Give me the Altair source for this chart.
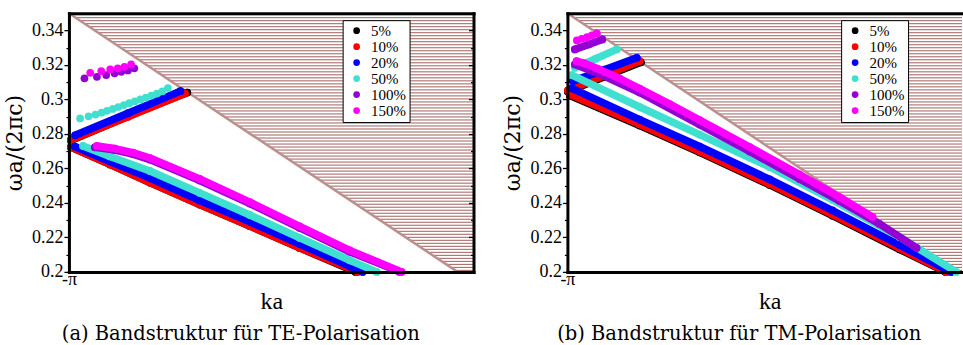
import altair as alt
import pandas as pd

# ---------------- data ----------------
SERIES = ["5%", "10%", "20%", "50%", "100%", "150%"]
COLORS = ["#000000", "#ff0000", "#0000ff", "#40e0d0", "#9400d3", "#ff00ff"]

CAPTIONS = ["(a) Bandstruktur für TE-Polarisation", "(b) Bandstruktur für TM-Polarisation"]
X_TITLE = "ka"
Y_TITLE = "ωa/(2πc)"

KA_PI = -3.14159
X_TICKS = [KA_PI]
X_TICK_LABELS = ["-π"]
Y_TICKS = [0.2, 0.22, 0.24, 0.26, 0.28, 0.3, 0.32, 0.34]
Y_MINOR = [0.21, 0.23, 0.25, 0.27, 0.29, 0.31, 0.33]
Y_RANGE = [0.2, 0.35]
KA_MAX = [-1.745, -1.779]

# light line (edge of the hatched light cone)
LIGHT_KA = [KA_PI, -1.800]
LIGHT_W = [0.35, 0.20]

# --- TE polarisation (ka, omega a / 2 pi c) ---
TE_5_LOW = [(-3.135, 0.2724), (-3.000, 0.2623), (-2.862, 0.2518), (-2.690, 0.2391), (-2.517, 0.2266), (-2.345, 0.2139), (-2.152, 0.2000)]
TE_5_UP = [(-3.135, 0.2762), (-2.936, 0.2903), (-2.733, 0.3040)]
TE_10_LOW = [(-3.135, 0.2724), (-3.000, 0.2623), (-2.862, 0.2518), (-2.690, 0.2391), (-2.517, 0.2266), (-2.345, 0.2139), (-2.145, 0.2000)]
TE_10_UP = [(-3.135, 0.2765), (-2.938, 0.2899), (-2.741, 0.3034)]
TE_20_LOW = [(-3.121, 0.2727), (-3.000, 0.2640), (-2.862, 0.2544), (-2.690, 0.2414), (-2.517, 0.2290), (-2.345, 0.2162), (-2.172, 0.2032), (-2.128, 0.2000)]
TE_20_UP = [(-3.120, 0.2792), (-2.938, 0.2920), (-2.757, 0.3048)]
TE_50_LOW = [(-3.093, 0.2730), (-3.000, 0.2669), (-2.862, 0.2585), (-2.690, 0.2458), (-2.517, 0.2330), (-2.345, 0.2197), (-2.172, 0.2067), (-2.079, 0.2000)]
TE_50_UP = [(-3.103, 0.2890), (-3.074, 0.2902), (-3.050, 0.2912), (-3.029, 0.2923), (-3.010, 0.2934), (-2.990, 0.2945),
            (-2.971, 0.2956), (-2.952, 0.2967), (-2.933, 0.2978), (-2.914, 0.2989), (-2.895, 0.3000), (-2.876, 0.3011),
            (-2.857, 0.3022), (-2.838, 0.3034), (-2.819, 0.3047), (-2.800, 0.3066)]
TE_100_LOW = [(-3.052, 0.2722), (-2.983, 0.2706), (-2.921, 0.2683), (-2.862, 0.2651), (-2.690, 0.2530), (-2.517, 0.2396), (-2.345, 0.2255), (-2.172, 0.2116), (-2.000, 0.2000)]
TE_100_UP = [(-3.088, 0.3122), (-3.045, 0.3131), (-3.013, 0.3141), (-2.984, 0.3151), (-2.961, 0.3160), (-2.938, 0.3168), (-2.916, 0.3180)]
TE_150_LOW = [(-3.045, 0.2730), (-2.983, 0.2715), (-2.921, 0.2692), (-2.862, 0.2660), (-2.690, 0.2539), (-2.517, 0.2405), (-2.345, 0.2264), (-2.172, 0.2125), (-1.993, 0.2000)]
TE_150_UP = [(-3.068, 0.3154), (-3.030, 0.3164), (-2.999, 0.3174), (-2.973, 0.3180), (-2.950, 0.3189), (-2.927, 0.3203)]

# --- TM polarisation ---
TM_5_LOW = [(-3.133, 0.3023), (-2.892, 0.2849), (-2.685, 0.2693), (-2.443, 0.2504), (-2.226, 0.2326), (-1.995, 0.2131), (-1.836, 0.2000)]
TM_5_UP = [(-3.140, 0.3045), (-3.014, 0.3131), (-2.888, 0.3215)]
TM_10_LOW = [(-3.133, 0.3029), (-2.892, 0.2855), (-2.685, 0.2699), (-2.443, 0.2510), (-2.226, 0.2332), (-1.995, 0.2137), (-1.833, 0.2000)]
TM_10_UP = [(-3.140, 0.3052), (-3.016, 0.3137), (-2.892, 0.3222)]
TM_20_LOW = [(-3.126, 0.3064), (-2.892, 0.2883), (-2.685, 0.2727), (-2.443, 0.2536), (-2.226, 0.2356), (-1.995, 0.2156), (-1.817, 0.2000)]
TM_20_UP = [(-3.123, 0.3106), (-3.012, 0.3173), (-2.902, 0.3241)]
TM_50_LOW = [(-3.126, 0.3141), (-2.892, 0.2956), (-2.685, 0.2796), (-2.443, 0.2608), (-2.226, 0.2417), (-1.995, 0.2203), (-1.799, 0.2000)]
TM_50_UP = [(-3.116, 0.3183), (-3.044, 0.3236), (-2.971, 0.3290)]
TM_100_LOW = [(-3.116, 0.3203), (-3.030, 0.3147), (-2.892, 0.3040), (-2.685, 0.2854), (-2.512, 0.2698), (-2.340, 0.2539), (-2.202, 0.2411), (-2.064, 0.2278), (-1.936, 0.2139)]
TM_100_UP = [(-3.116, 0.3290), (-3.068, 0.3319), (-3.021, 0.3348)]
TM_150_LOW = [(-3.110, 0.3222), (-3.085, 0.3211), (-3.030, 0.3173), (-2.961, 0.3121), (-2.892, 0.3063), (-2.788, 0.2973),
              (-2.685, 0.2880), (-2.512, 0.2724), (-2.340, 0.2565), (-2.202, 0.2434), (-2.088, 0.2319)]
TM_150_UP = [(-3.109, 0.3342), (-3.092, 0.3351), (-3.074, 0.3361), (-3.057, 0.3371), (-3.040, 0.3383)]

# branch tables: (series, branch name, kind, points)
TE_BRANCHES = [
    ("5%", "low", "band", TE_5_LOW), ("5%", "up", "band", TE_5_UP),
    ("10%", "low", "band", TE_10_LOW), ("10%", "up", "band", TE_10_UP),
    ("20%", "low", "band", TE_20_LOW), ("20%", "up", "band", TE_20_UP),
    ("50%", "low", "band", TE_50_LOW), ("50%", "up", "dots", TE_50_UP),
    ("100%", "low", "band", TE_100_LOW), ("100%", "up", "dots", TE_100_UP),
    ("150%", "low", "band", TE_150_LOW), ("150%", "up", "dots", TE_150_UP),
]
TM_BRANCHES = [
    ("5%", "low", "band", TM_5_LOW), ("5%", "up", "band", TM_5_UP),
    ("10%", "low", "band", TM_10_LOW), ("10%", "up", "band", TM_10_UP),
    ("20%", "low", "band", TM_20_LOW), ("20%", "up", "band", TM_20_UP),
    ("50%", "low", "band", TM_50_LOW), ("50%", "up", "band", TM_50_UP),
    ("100%", "low", "band", TM_100_LOW), ("100%", "up", "band", TM_100_UP),
    ("150%", "low", "band", TM_150_LOW), ("150%", "up", "dots", TM_150_UP),
]

# ---------------- styling ----------------
FONT = "DejaVu Serif"
TFONT = "Liberation Serif"
PANEL_W = [405, 395]
PANEL_H = 259
HATCH_COLOR = "#a0605e"
LIGHT_COLOR = "#bc8f8f"
N_STRIPES = 86
STRIPE_DW = (Y_RANGE[1] - Y_RANGE[0]) / N_STRIPES

color_scale = alt.Scale(domain=SERIES, range=COLORS)

LEGEND = alt.Legend(title=None, orient="none", legendX=274, legendY=7, direction="vertical",
                    fillColor="white", strokeColor="black", padding=3, symbolType="circle",
                    symbolSize=45, symbolStrokeWidth=0, symbolOffset=3.5, labelFont=TFONT,
                    labelFontSize=15, labelColor="black", labelOffset=7, rowPadding=-3.5,
                    cornerRadius=0)


def frame_of(branches):
    rows = []
    for s, b, k, pts in branches:
        for ka, w in pts:
            rows.append({"ka": ka, "w": w, "series": s, "branch": b, "kind": k})
    return pd.DataFrame(rows)


def make_panel(idx, branches, caption):
    pw = PANEL_W[idx]
    xs = alt.Scale(domain=[KA_PI, KA_MAX[idx]], nice=False, zero=False)
    ys = alt.Scale(domain=Y_RANGE, nice=False, zero=False)

    ax_left = alt.Axis(orient="left", values=Y_TICKS, format=".2~f", tickSize=5, tickWidth=1.3,
                       tickColor="black", labelFont=TFONT, labelFontSize=18, labelColor="black",
                       labelPadding=1, labelFlush=False, labelOverlap=False, domain=True,
                       domainColor="black", domainWidth=3, domainCap="square", title=Y_TITLE,
                       titleFont=FONT, titleFontSize=22, titleFontWeight="normal", titleColor="black",
                       titlePadding=5, grid=False, zindex=1)
    ax_left_minor = alt.Axis(orient="left", values=Y_MINOR, tickSize=3, tickWidth=1.2, tickColor="black",
                             labels=False, domain=False, title=None, grid=False, zindex=1)
    title_x = PANEL_W[0] / 2
    ax_bottom = alt.Axis(orient="bottom", values=X_TICKS,
                         labelExpr="'" + X_TICK_LABELS[0] + "'", ticks=False, labelFont=TFONT,
                         labelFontSize=18, labelColor="black", labelPadding=-1, labelFlush=False,
                         domain=True, domainColor="black", domainWidth=3, domainCap="square",
                         title=X_TITLE, titleFont=TFONT, titleFontSize=24, titleFontWeight="normal",
                         titleColor="black", titlePadding=1, titleX=title_x, grid=False, zindex=1)
    ax_top = alt.Axis(orient="top", ticks=False, labels=False, domain=True, domainColor="black",
                      domainWidth=3, domainCap="square", title=None, grid=False, zindex=1)
    if idx == 0:
        ax_r1 = alt.Axis(orient="right", ticks=False, labels=False, domain=True, domainColor="black",
                         domainWidth=3, domainCap="square", title=None, grid=False, zindex=1)
        ax_r2 = alt.Axis(orient="right", values=Y_TICKS, tickSize=5, tickWidth=1.3, tickColor="black",
                         offset=-5, labels=False, domain=False, title=None, grid=False, zindex=1)
        ax_r3 = alt.Axis(orient="right", values=Y_MINOR, tickSize=3, tickWidth=1.2, tickColor="black",
                         offset=-3, labels=False, domain=False, title=None, grid=False, zindex=1)
    else:
        ax_r1 = ax_r2 = ax_r3 = None

    hatch = alt.Chart(alt.sequence(0, N_STRIPES, as_="i")).transform_calculate(
        w=f"{Y_RANGE[0]} + (datum.i + 0.5) * {STRIPE_DW}"
    ).transform_calculate(
        ka=f"{LIGHT_KA[0]} + ({LIGHT_W[0]} - datum.w) / ({LIGHT_W[0]} - {LIGHT_W[1]}) * ({LIGHT_KA[1]} - {LIGHT_KA[0]})"
    ).mark_rule(strokeWidth=1, color=HATCH_COLOR).encode(
        x=alt.X("ka:Q", scale=xs, axis=ax_bottom),
        x2=alt.value(pw),
        y=alt.Y("w:Q", scale=ys, axis=ax_left),
    )
    light = alt.Chart(pd.DataFrame({"ka": LIGHT_KA, "w": LIGHT_W})).mark_line(
        color=LIGHT_COLOR, strokeWidth=2.5
    ).encode(
        x=alt.X("ka:Q", scale=xs, axis=ax_top),
        y=alt.Y("w:Q", scale=ys, axis=ax_left_minor),
    )

    df = frame_of(branches)
    layers = [hatch, light]
    extra_axes = [ax_r1, ax_r2, ax_r3]
    ai = 0
    for i, s in enumerate(SERIES):
        sub = df[df["series"] == s]
        band = sub[sub["kind"] == "band"]
        if len(band):
            ya = extra_axes[ai] if ai < len(extra_axes) else None
            ai += 1
            layers.append(
                alt.Chart(band).mark_line(strokeWidth=7.5, strokeCap="round", strokeJoin="round").encode(
                    x=alt.X("ka:Q", scale=xs, axis=None),
                    y=alt.Y("w:Q", scale=ys, axis=ya),
                    color=alt.value(COLORS[i]),
                    detail="branch:N",
                )
            )
        ya = extra_axes[ai] if ai < len(extra_axes) else None
        ai += 1
        layers.append(
            alt.Chart(sub).mark_circle(size=60, opacity=1).encode(
                x=alt.X("ka:Q", scale=xs, axis=None),
                y=alt.Y("w:Q", scale=ys, axis=ya),
                color=alt.Color("series:N", scale=color_scale, legend=LEGEND),
            )
        )

    cap = alt.Chart(pd.DataFrame({"t": [caption]})).mark_text(
        font=FONT, fontSize=19.5, align="center", baseline="alphabetic", color="black"
    ).encode(text="t:N", x=alt.value(172), y=alt.value(327))
    layers.append(cap)

    return alt.layer(*layers).resolve_axis(x="independent", y="independent").properties(
        width=pw, height=PANEL_H
    )


left = make_panel(0, TE_BRANCHES, CAPTIONS[0])
right = make_panel(1, TM_BRANCHES, CAPTIONS[1])

chart = alt.hconcat(left, right, spacing=27).resolve_scale(color="independent").resolve_legend(
    color="independent"
).properties(
    padding={"left": 3, "top": 8, "right": 0, "bottom": 0},
    background="white",
).configure_view(strokeWidth=0)

chart.save("out.html", embed_options={"renderer": "svg", "actions": False})
